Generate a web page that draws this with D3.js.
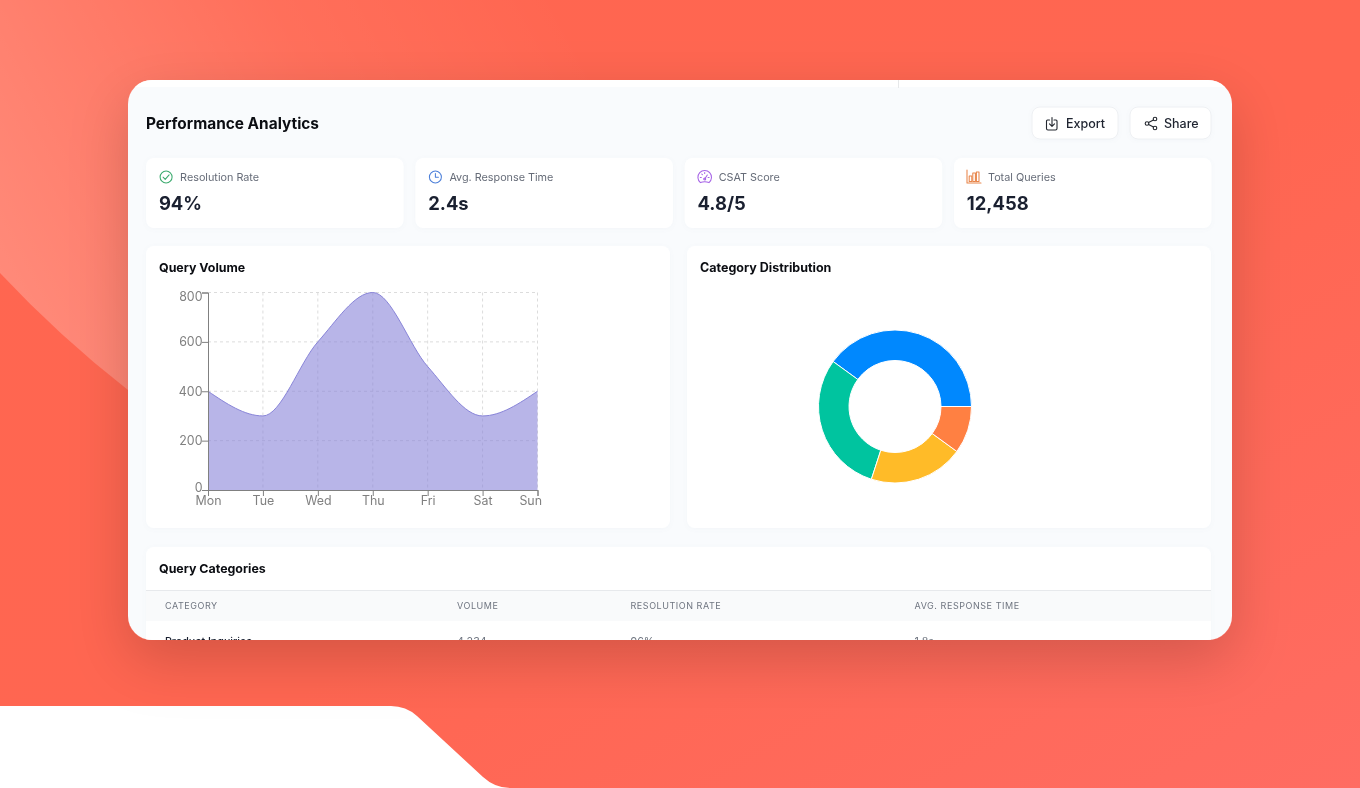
<!DOCTYPE html>
<html>
<head>
<meta charset="utf-8">
<title>Performance Analytics</title>
<script src="https://cdn.jsdelivr.net/npm/d3@7/dist/d3.min.js"></script>
<style>
html,body{margin:0;padding:0;background:#fff;overflow:hidden}
svg{display:block}
text{font-family:Inter,"Noto Sans",sans-serif}
#cardContent{filter:blur(0.3px)}
</style>
</head>
<body>
<svg id="root" width="1360" height="788" viewBox="0 0 1360 788"></svg>
<script>
// ---- data ----
const days = ["Mon","Tue","Wed","Thu","Fri","Sat","Sun"];
const queryVolume = [400,300,600,800,500,300,400];
const yTicks = [0,200,400,600,800];
const categoryShares = [40,30,20,10];
const categoryColors = ["#0088FE","#00C49F","#FFBB28","#FF8042"];
const kpiLabels = ["Resolution Rate","Avg. Response Time","CSAT Score","Total Queries"];
const kpiValues = ["94%","2.4s","4.8/5","12,458"];
const kpiIcons = ["check","clock","gauge","bars"];
const tableHeaders = ["CATEGORY","VOLUME","RESOLUTION RATE","AVG. RESPONSE TIME"];
const firstRow = ["Product Inquiries","4,234","96%","1.8s"];

const svg = d3.select("#root");
const defs = svg.append("defs");

// ---- background ----
const bg = defs.append("linearGradient").attr("id","bg").attr("x1",0).attr("y1",0).attr("x2",1).attr("y2",1);
bg.append("stop").attr("offset","0%").attr("stop-color","#FF6650");
bg.append("stop").attr("offset","55%").attr("stop-color","#FF6651");
bg.append("stop").attr("offset","100%").attr("stop-color","#FF6C62");
const glow = defs.append("linearGradient").attr("id","glow").attr("gradientUnits","userSpaceOnUse")
  .attr("x1",0).attr("y1",300).attr("x2",560).attr("y2",0);
glow.append("stop").attr("offset","0%").attr("stop-color","#fff").attr("stop-opacity",0.24);
glow.append("stop").attr("offset","60%").attr("stop-color","#fff").attr("stop-opacity",0.06);
glow.append("stop").attr("offset","100%").attr("stop-color","#fff").attr("stop-opacity",0);
const sh = defs.append("filter").attr("id","cardShadow").attr("x","-15%").attr("y","-20%").attr("width","130%").attr("height","150%");
sh.append("feDropShadow").attr("dx",0).attr("dy",20).attr("stdDeviation",28).attr("flood-color","#000").attr("flood-opacity",0.17);
const sh2 = defs.append("filter").attr("id","panelShadow").attr("x","-5%").attr("y","-10%").attr("width","110%").attr("height","120%");
sh2.append("feDropShadow").attr("dx",0).attr("dy",1).attr("stdDeviation",2).attr("flood-color","#8090a0").attr("flood-opacity",0.05);
defs.append("clipPath").attr("id","cardClip").append("rect")
  .attr("x",128).attr("y",80).attr("width",1104).attr("height",560).attr("rx",24);

svg.append("rect").attr("width",1360).attr("height",788).attr("fill","url(#bg)");
svg.append("path").attr("fill","url(#glow)")
  .attr("d","M0,273 Q60,337 128,390 L300,500 H900 V0 H0 Z");
svg.append("path").attr("fill","#fff")
  .attr("d","M0,706 H391 Q406,706 417,716 L483,777 Q495,788 510,788 H0 Z");

// ---- card ----
svg.append("rect").attr("x",128).attr("y",80).attr("width",1104).attr("height",560).attr("rx",24)
  .attr("fill","#F9FBFD").attr("filter","url(#cardShadow)");
const clipHost = svg.append("g").attr("clip-path","url(#cardClip)");
const card = clipHost.append("g").attr("id","cardContent");
card.append("rect").attr("x",128).attr("y",80).attr("width",1104).attr("height",7).attr("fill","#fff");
card.append("rect").attr("x",898).attr("y",80).attr("width",1).attr("height",8).attr("fill","#e6e8ea");

function panel(x,y,w,h,r){
  return card.append("rect").attr("x",x).attr("y",y).attr("width",w).attr("height",h).attr("rx",r||8)
    .attr("fill","#fff").attr("filter","url(#panelShadow)");
}
function label(x,y,t,size,weight,color,anchor){
  return card.append("text").attr("x",x).attr("y",y).text(t)
    .attr("font-size",size).attr("font-weight",weight).attr("fill",color).attr("text-anchor",anchor||"start");
}

label(146,128.5,"Performance Analytics",15.4,680,"#0b0d12");

// ---- buttons ----
panel(1032,107,86,32,8).attr("stroke","#eef0f3");
panel(1130,107,81,32,8).attr("stroke","#eef0f3");
label(1066,128,"Export",12.5,500,"#1f2430");
label(1164,128,"Share",12.5,500,"#1f2430");
const ic = card.append("g").attr("fill","none").attr("stroke","#22262e").attr("stroke-width",1.1)
  .attr("stroke-linecap","round").attr("stroke-linejoin","round");
ic.append("path").attr("d","M1049.5,120 h-2 a1,1 0 0 0 -1,1 v7.5 a1.5,1.5 0 0 0 1.5,1.5 h7.5 a1.5,1.5 0 0 0 1.5,-1.5 v-7.5 a1,1 0 0 0 -1,-1 h-2");
ic.append("path").attr("d","M1052,117.5 v8.5 M1049.5,123.8 l2.5,2.5 l2.5,-2.5");
ic.append("circle").attr("cx",1155).attr("cy",119).attr("r",1.8);
ic.append("circle").attr("cx",1147).attr("cy",123.5).attr("r",1.8);
ic.append("circle").attr("cx",1155).attr("cy",128).attr("r",1.8);
ic.append("path").attr("d","M1148.6,122.6 L1153.4,119.9 M1148.6,124.4 L1153.4,127.1");

// ---- KPI tiles ----
const kpiStep = 269.3;
function drawIcon(kind,cx,cy){
  const g = card.append("g").attr("transform",`translate(${cx},${cy})`).attr("fill","none")
    .attr("stroke-width",1.05).attr("stroke-linecap","round").attr("stroke-linejoin","round");
  if(kind==="check"){
    g.attr("stroke","#3BAA6E");
    g.append("circle").attr("r",6);
    g.append("path").attr("d","M-3,0.2 L-0.9,2.4 L3,-2.2");
  } else if(kind==="clock"){
    g.attr("stroke","#4C7FD9");
    g.append("circle").attr("r",6);
    g.append("path").attr("d","M0,-3.5 V0.3 H3");
  } else if(kind==="gauge"){
    g.attr("stroke","#A663E6");
    g.append("path").attr("d","M-4.3,5.6 A6.8,6.8 0 1 1 4.3,5.6 Q0,4 -4.3,5.6 Z");
    g.append("path").attr("d","M0,2 L2.6,-2 M-4.4,0.4 h1 M3.4,0.4 h1 M0,-4.6 v1 M-3,-3 l.7,.7");
    g.append("circle").attr("cx",0).attr("cy",2).attr("r",1);
  } else {
    g.attr("stroke","#E8854A");
    g.append("path").attr("d","M-7,-7 V6 H7");
    g.append("rect").attr("x",-4.8).attr("y",-1).attr("width",2.6).attr("height",5.5);
    g.append("rect").attr("x",-1.2).attr("y",-4).attr("width",2.6).attr("height",8.5);
    g.append("rect").attr("x",2.4).attr("y",-5).attr("width",2.6).attr("height",9.5);
  }
}
kpiLabels.forEach((t,i)=>{
  const x = 146.1 + i*kpiStep;
  panel(x,158,257.5,70,8);
  drawIcon(kpiIcons[i],x+20,177);
  label(x+34,181,t,10.8,400,"#666c78");
  label(x+12.8,210,kpiValues[i],18.4,680,"#1a2030");
});

// ---- Query volume panel ----
panel(146,246,524,282,8);
label(159,271.5,"Query Volume",12.4,650,"#0b0d12");

const x = d3.scalePoint().domain(days).range([208,537.5]);
const y = d3.scaleLinear().domain([0,800]).range([490,292.5]);
const chart = card.append("g");
const grid = chart.append("g").attr("fill","none").attr("stroke","#dcdcdc").attr("stroke-dasharray","3 3");
grid.selectAll("line.h").data(yTicks.filter(d=>d>0)).join("line").attr("class","h")
  .attr("x1",x.range()[0]).attr("x2",x.range()[1]).attr("y1",d=>y(d)).attr("y2",d=>y(d));
grid.selectAll("line.v").data(days.slice(1)).join("line").attr("class","v")
  .attr("x1",d=>x(d)).attr("x2",d=>x(d)).attr("y1",y.range()[1]).attr("y2",y.range()[0]);

const pts = days.map((d,i)=>({d,v:queryVolume[i]}));
const curve = d3.curveMonotoneX;
chart.append("path").datum(pts).attr("fill","#8884d8").attr("fill-opacity",0.6)
  .attr("d",d3.area().x(p=>x(p.d)).y0(y(0)).y1(p=>y(p.v)).curve(curve));
chart.append("path").datum(pts).attr("fill","none").attr("stroke","#8884d8").attr("stroke-width",1)
  .attr("d",d3.line().x(p=>x(p.d)).y(p=>y(p.v)).curve(curve));

const axisY = chart.append("g").attr("transform",`translate(${x.range()[0]},0)`)
  .call(d3.axisLeft(y).tickValues(yTicks).tickSize(6).tickPadding(0));
const axisX = chart.append("g").attr("transform",`translate(0,${y(0)})`)
  .call(d3.axisBottom(x).tickSize(6).tickPadding(0));
[axisY,axisX].forEach(a=>{
  a.selectAll("path,line").attr("stroke","#808080");
  a.selectAll("text").attr("fill","#808080").attr("font-size",12.4).attr("font-family","Inter");
});
// first and last labels are nudged inward, as the reference does
axisY.selectAll("text").attr("x",-5.5).attr("dy",d=>d===800?"0.68em":d===0?"0.1em":"0.33em");
axisX.selectAll("text").attr("y",6.2).attr("dy","0.71em");
axisX.selectAll("text").filter(d=>d==="Sun").attr("text-anchor","end").attr("dx",4);

// ---- Category distribution panel ----
panel(687,246,524,282,8);
label(700,271.5,"Category Distribution",12.5,650,"#0b0d12");
const pie = d3.pie().sort(null).startAngle(Math.PI/2).endAngle(Math.PI/2 - 2*Math.PI);
const arc = d3.arc().innerRadius(46).outerRadius(76.5);
card.append("g").attr("transform","translate(895,406.5)")
  .selectAll("path").data(pie(categoryShares)).join("path")
  .attr("d",arc).attr("fill",(d,i)=>categoryColors[i]).attr("stroke","#fff").attr("stroke-width",1);

// ---- Table panel ----
panel(146,547,1065,110,8);
label(159,573,"Query Categories",12.4,650,"#0b0d12");
card.append("rect").attr("x",146).attr("y",591).attr("width",1065).attr("height",30).attr("fill","#F9FAFB");
card.append("rect").attr("x",146).attr("y",590).attr("width",1065).attr("height",1).attr("fill","#E7E9EC");
const colX = d3.scaleOrdinal().domain(tableHeaders).range([165,457,630.5,914.5]);
tableHeaders.forEach((h,i)=>{
  label(colX(h),609,h,9,400,"#6f7580").attr("letter-spacing",0.55);
  label(colX(h),645,firstRow[i],10.7,i===0?500:400,i===0?"#1a2030":"#6f7580");
});
</script>
</body>
</html>
